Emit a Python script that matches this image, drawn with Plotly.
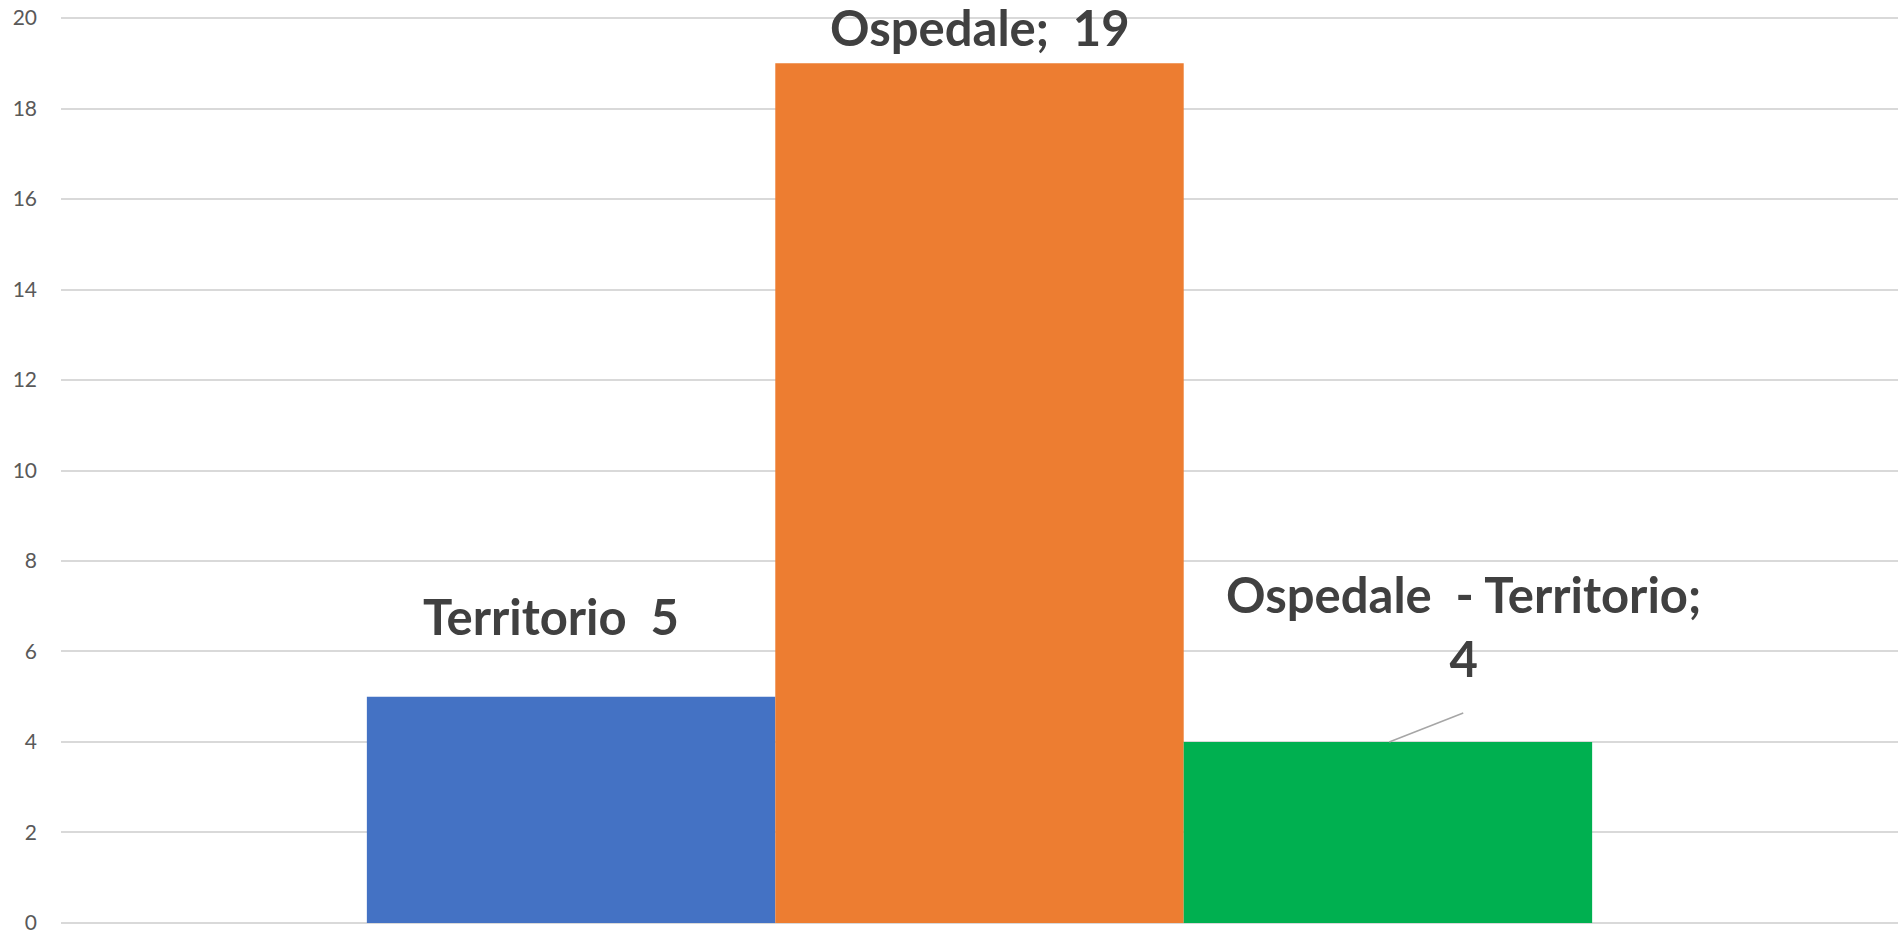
import plotly.graph_objects as go

series_names = ["Territorio", "Ospedale", "Ospedale  - Territorio"]
values = [5, 19, 4]
colors = ["#4472C4", "#ED7D31", "#00B050"]
label_texts = ["Territorio  5", "Ospedale;  19", "Ospedale  - Territorio;<br>4"]
y_ticks = [0, 2, 4, 6, 8, 10, 12, 14, 16, 18, 20]

fig = go.Figure()
for name, v, c in zip(series_names, values, colors):
    fig.add_trace(go.Bar(x=[""], y=[v], name=name, marker=dict(color=c, line=dict(width=0)),
                         hoverinfo="skip"))

# label positions (data coords) relative to each bar
bar_w = (1 - 0.333) / 3
centers = [-bar_w, 0.0, bar_w]
label_dx = [-0.011, 0.0, 0.041]
label_dy = [1.78, 0.8, 2.56]
lab_font = dict(family="Lato, Carlito, sans-serif", size=49, color="#404040")
for i in range(3):
    fig.add_annotation(x=centers[i] + label_dx[i], y=values[i] + label_dy[i], xref="x", yref="y",
                       text="<b>" + label_texts[i] + "</b>", showarrow=False,
                       font=lab_font, xanchor="center", yanchor="middle", align="center")

# leader line for the third label
fig.add_shape(type="line", xref="x", yref="y",
              x0=centers[2] + 0.0007, y0=values[2],
              x1=centers[2] + 0.041, y1=values[2] + 0.64,
              line=dict(color="#A6A6A6", width=1.5))

fig.update_layout(
    width=1899, height=960,
    margin=dict(l=61, r=1, t=16, b=35),
    paper_bgcolor="white", plot_bgcolor="white",
    barmode="group", bargap=0.333, bargroupgap=0,
    showlegend=False,
    xaxis=dict(showticklabels=False, showgrid=False, zeroline=False, showline=False,
               range=[-0.5, 0.5]),
    yaxis=dict(range=[-0.045, 20.045], tickvals=y_ticks, showgrid=True, gridcolor="#D9D9D9",
               gridwidth=1.5, zeroline=True, zerolinecolor="#D9D9D9", zerolinewidth=1.5,
               showline=False,
               tickfont=dict(family="Lato, Carlito, sans-serif", size=21, color="#595959"),
               ticklabelstandoff=23),
)
fig.write_html("out.html", config={"displayModeBar": False},
               post_script="document.body.style.margin='0';document.body.style.overflow='hidden';")
